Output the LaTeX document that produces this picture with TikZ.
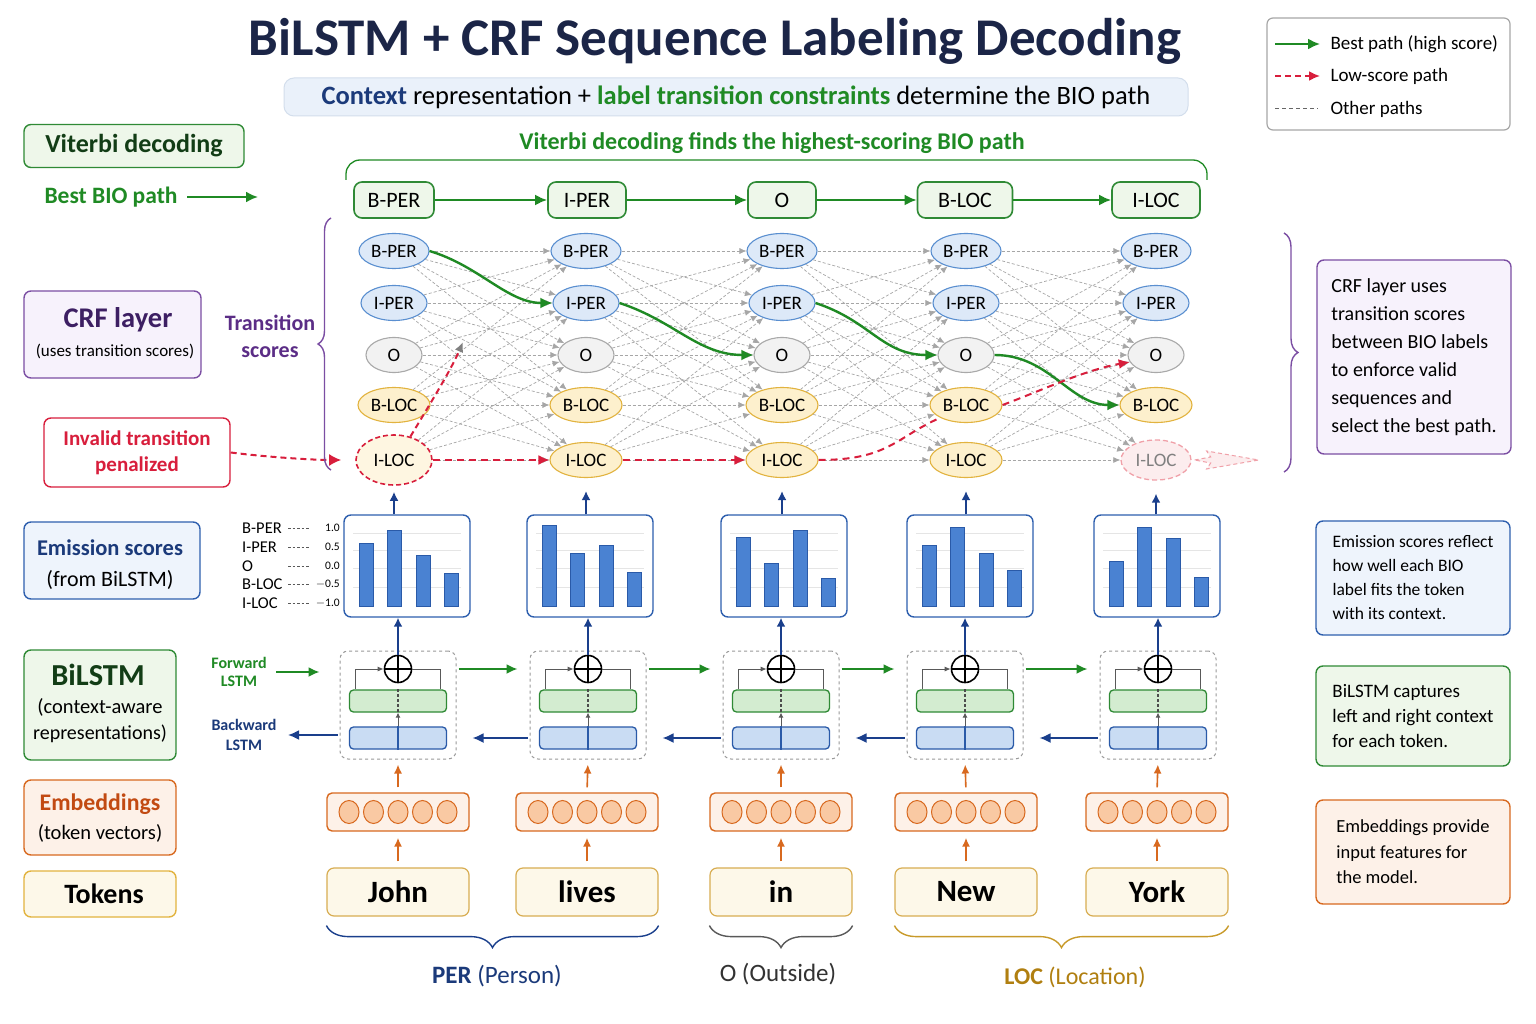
\documentclass[tikz,border=0pt]{standalone}
\usepackage{fontspec}
\setmainfont{Carlito}
\usetikzlibrary{shapes.geometric,arrows.meta,decorations.pathreplacing,calc}
\definecolor{navyT}{HTML}{1B2547}
\definecolor{bestG}{HTML}{1F8A24}
\definecolor{darkG}{HTML}{123D16}
\definecolor{bestFill}{HTML}{EEF7EA}
\definecolor{bestBord}{HTML}{2F8A35}
\definecolor{redC}{HTML}{D81E3C}
\definecolor{purpleC}{HTML}{7B4EA3}
\definecolor{purpleT}{HTML}{3D1F63}
\definecolor{purpleFill}{HTML}{F7F2FC}
\definecolor{transT}{HTML}{5B2D86}
\definecolor{blueC}{HTML}{2E5FAE}
\definecolor{blueFill}{HTML}{EEF4FC}
\definecolor{navyArr}{HTML}{1A3F8C}
\definecolor{blueT}{HTML}{1B3A7A}
\definecolor{bperFill}{HTML}{DDE9F8}
\definecolor{bperBord}{HTML}{5A8FD0}
\definecolor{oFill}{HTML}{F2F2F2}
\definecolor{oBord}{HTML}{A9A9A9}
\definecolor{locFill}{HTML}{FDF0CD}
\definecolor{locBord}{HTML}{E2B33F}
\definecolor{barFill}{HTML}{4A82D2}
\definecolor{barBord}{HTML}{2A5AA8}
\definecolor{fwFill}{HTML}{D3ECD0}
\definecolor{bwFill}{HTML}{C9DCF3}
\definecolor{orC}{HTML}{D8691F}
\definecolor{orT}{HTML}{C24A12}
\definecolor{orFill}{HTML}{FDF1E8}
\definecolor{dotFill}{HTML}{F9C9A3}
\definecolor{tokFill}{HTML}{FDF8E9}
\definecolor{tokBord}{HTML}{D8AD52}
\definecolor{goldT}{HTML}{B07F10}
\definecolor{goldB}{HTML}{C89A2A}
\definecolor{subFill}{HTML}{EAF1FA}
\definecolor{subBord}{HTML}{D3DEEC}
\definecolor{pinkD}{HTML}{F0A0A8}
\definecolor{pinkF}{HTML}{FCEDEE}
\newcommand\fz[2]{\fontsize{#1}{#2}\selectfont}
\begin{document}
\begin{tikzpicture}[x=1pt,y=-1pt,
  lbl/.style={draw=#1, rounded corners=7pt, line width=1.4pt},
  tnd/.style={ellipse, inner sep=0pt, minimum height=35pt, line width=1.1pt, font=\fz{19}{21}},
  pernd/.style={tnd, draw=bperBord, fill=bperFill, minimum width=70pt},
  ond/.style={tnd, draw=oBord, fill=oFill, minimum width=56pt},
  locnd/.style={tnd, draw=locBord, fill=locFill, minimum width=72pt},
  topnd/.style={draw=bestBord, fill=bestFill, rounded corners=8pt, line width=1.6pt, minimum height=36pt, inner sep=0pt, font=\fz{22}{24}},
  bestp/.style={draw=bestG, line width=2.4pt, -{Latex[length=12pt,width=11pt]}},
  lowp/.style={draw=redC, line width=2pt, dash pattern=on 7pt off 5pt, -{Latex[length=11pt,width=10pt]}},
  lowline/.style={draw=redC, line width=2pt, dash pattern=on 7pt off 5pt},
  othr/.style={draw=gray!70, line width=0.7pt, dash pattern=on 3pt off 2pt, -{Latex[length=7pt,width=6pt]}},
  navyarr/.style={draw=navyArr, line width=1.8pt, -{Latex[length=9pt,width=9pt]}},
  fwarr/.style={draw=bestG, line width=1.8pt, -{Latex[length=11pt,width=10pt]}},
  bwarr/.style={draw=navyArr, line width=1.8pt, -{Latex[length=11pt,width=10pt]}},
  orarr/.style={draw=orC, line width=1.6pt, -{Latex[length=9pt,width=8pt]}},
  embx/.style={draw=blueC, fill=white, rounded corners=7pt, line width=1.4pt, minimum width=126pt, minimum height=102pt},
  cellbox/.style={draw=gray!80, dashed, rounded corners=8pt, line width=1pt, minimum width=116pt, minimum height=108pt},
  fwbar/.style={draw=bestBord, fill=fwFill, rounded corners=4pt, line width=1.3pt, minimum width=97pt, minimum height=22pt},
  bwbar/.style={draw=barBord, fill=bwFill, rounded corners=4pt, line width=1.3pt, minimum width=97pt, minimum height=22pt},
  embnd/.style={draw=orC, fill=orFill, rounded corners=5pt, line width=1.4pt, minimum width=142pt, minimum height=38pt},
  toknd/.style={draw=tokBord, fill=tokFill, rounded corners=7pt, line width=1.2pt, minimum width=142pt, minimum height=48pt, font=\fz{31}{34}\bfseries},
  notebox/.style={lbl=#1, align=left, minimum width=194pt},
  brc/.style={decorate, line width=1.4pt},
]
\useasboundingbox (0,0) rectangle (1536,1024);
\fill[white] (0,0) rectangle (1536,1024);

% ---------- title ----------
\node[font=\fz{53}{58}\bfseries, text=navyT] (title) at (715,41) {BiLSTM + CRF Sequence Labeling Decoding};
\node[fill=subFill, draw=subBord, rounded corners=10pt, line width=1pt, minimum width=904pt, minimum height=38pt, font=\fz{26.5}{30}] (sub) at (736,97)
  {\textcolor{blueT}{\bfseries Context} representation + \textcolor{bestG}{\bfseries label transition constraints} determine the BIO path};

% ---------- legend ----------
\node[draw=gray!70, rounded corners=6pt, line width=1.2pt, minimum width=243pt, minimum height=112pt] (legend) at (1388.5,74) {};
\coordinate (lga) at (1275,44); \coordinate (lgb) at (1320,44);
\coordinate (lgc) at (1275,76); \coordinate (lgd) at (1320,76);
\coordinate (lge) at (1275,109); \coordinate (lgf) at (1318,109);
\draw[bestp, line width=2pt] (lga) -- (lgb);
\draw[lowp, dash pattern=on 6pt off 4pt] (lgc) -- (lgd);
\draw[draw=gray!80!black, line width=1pt, dash pattern=on 4pt off 3pt] (lge) -- (lgf);
\node[anchor=west, font=\fz{19}{22}] (lg1) at (1327,44) {Best path (high score)};
\node[anchor=west, font=\fz{19}{22}] (lg2) at (1327,76) {Low-score path};
\node[anchor=west, font=\fz{19}{22}] (lg3) at (1327,109) {Other paths};

% ---------- left labels ----------
\node[lbl=bestBord, fill=bestFill, minimum width=220pt, minimum height=43pt, font=\fz{26}{28}\bfseries, text=darkG] (vitbox) at (134,146) {Viterbi decoding};
\node[font=\fz{23.5}{26}\bfseries, text=bestG] (bbp) at (111,197) {Best BIO path};
\coordinate (bbpend) at (258,197);
\draw[bestp, line width=2.2pt, shorten <=6pt] (bbp.east) -- (bbpend);

\node[lbl=purpleC, fill=purpleFill, minimum width=177pt, minimum height=87pt] (crfbox) at (112.5,334.5) {};
\node[font=\fz{28.5}{30}\bfseries, text=purpleT] (crft) at (118,320) {CRF layer};
\node[font=\fz{17}{20}] (crfs) at (115,351) {(uses transition scores)};
\node[font=\fz{22}{27}\bfseries, text=transT, align=center] (trs) at (270,336) {Transition\\scores};

\node[lbl=redC, fill=white, minimum width=186pt, minimum height=69pt, font=\fz{21}{26}\bfseries, text=redC, align=center] (inv) at (137,452.5) {Invalid transition\\penalized};

\node[lbl=blueC, fill=blueFill, minimum width=176pt, minimum height=77pt] (embox) at (112,560.5) {};
\node[font=\fz{22.5}{26}\bfseries, text=blueT] (emt) at (110,548) {Emission scores};
\node[font=\fz{22}{24}] (ems) at (110,580) {(from BiLSTM)};

\node[lbl=bestBord, fill=bestFill, minimum width=152pt, minimum height=110pt] (lstmbox) at (100,705) {};
\node[font=\fz{30.5}{32}\bfseries, text=darkG] (lstmt) at (98,675) {BiLSTM};
\node[font=\fz{20.5}{22}] (lstms1) at (100,707) {(context-aware};
\node[font=\fz{20}{22}] (lstms2) at (100,734) {representations)};

\node[lbl=orC, fill=orFill, minimum width=152pt, minimum height=75pt] (embbox) at (100,817.5) {};
\node[font=\fz{23.8}{26}\bfseries, text=orT] (embt) at (100,804) {Embeddings};
\node[font=\fz{20.5}{22}] (embs) at (100,833) {(token vectors)};

\node[lbl=locBord, fill=tokFill, minimum width=152pt, minimum height=46pt, font=\fz{28}{30}\bfseries] (tokbox) at (100,894) {\hspace*{8pt}Tokens};

% ---------- top best path row ----------
\node[topnd, minimum width=80pt] (t1) at (394,200) {B-PER};
\node[topnd, minimum width=78pt] (t2) at (587,200) {I-PER};
\node[topnd, minimum width=68pt] (t3) at (782,200) {O};
\node[topnd, minimum width=95pt] (t4) at (965,200) {B-LOC};
\node[topnd, minimum width=88pt] (t5) at (1156,200) {I-LOC};
\draw[bestp] (t1) -- (t2);
\draw[bestp] (t2) -- (t3);
\draw[bestp] (t3) -- (t4);
\draw[bestp] (t4) -- (t5);
\node[font=\fz{24}{26}\bfseries, text=bestG] (vitfind) at (772,143) {Viterbi decoding finds the highest-scoring BIO path};
\draw[bestG, line width=1.3pt, rounded corners=14pt] (346,180) -- (346,160) -- (1207,160) -- (1207,180);

% ---------- trellis ----------
\foreach \k/\x in {1/394,2/586,3/782,4/966,5/1156}{
  \node[pernd] (bp\k) at (\x,251) {B-PER};
  \node[pernd, minimum width=66pt] (ip\k) at (\x,303) {I-PER};
  \node[ond] (o\k) at (\x,355) {O};
  \node[locnd] (bl\k) at (\x,405) {B-LOC};
}
\foreach \k/\x in {2/586,3/782,4/966}
  \node[locnd] (il\k) at (\x,460) {I-LOC};
\node[tnd, draw=redC, fill=locFill!60, line width=1.6pt, minimum width=76pt, minimum height=50pt, dash pattern=on 5pt off 3pt] (il1) at (394,460) {I-LOC};
\node[tnd, draw=pinkD, fill=pinkF, dash pattern=on 5pt off 3pt, line width=1.3pt, minimum width=70pt, minimum height=40pt, text=gray] (il5) at (1156,460) {I-LOC};

\foreach \k [evaluate=\k as \n using int(\k+1)] in {1,...,4}{
  \foreach \a/\ra in {bp/1,ip/2,o/3,bl/4,il/5}{
    \foreach \b/\rb in {bp/1,ip/2,o/3,bl/4,il/5}{
      \pgfmathtruncatemacro\dd{abs(\ra-\rb)}
      \ifnum\dd<4
        \draw[othr] (\a\k) -- (\b\n);
      \fi
    }
  }
}

% best path
\draw[bestp] (bp1.east) .. controls +(50,15) and +(-45,0) .. (ip2.west);
\draw[bestp] (ip2.east) .. controls +(55,18) and +(-55,0) .. (o3.west);
\draw[bestp] (ip3.east) .. controls +(55,18) and +(-55,0) .. (o4.west);
\draw[bestp] (o4.east) .. controls +(55,0) and +(-50,0) .. (bl5.west);

% low-score path
\draw[lowp] (il1) -- (il2);
\draw[lowp] (il2) -- (il3);
\draw[lowline] (il3.east) .. controls +(70,0) and +(-45,20) .. (bl4.south west);
\draw[lowp] (bl4.east) .. controls +(40,-15) and +(-45,8) .. (o5.195);
\coordinate (invtip) at (463,342);
\draw[lowline, dash pattern=on 6pt off 4pt, -{Latex[length=10pt,width=9pt,color=gray]}] (il1.55) .. controls +(18,-30) and +(-12,28) .. (invtip);
\draw[draw=redC, line width=2pt, dash pattern=on 6pt off 4pt, -{Latex[length=12pt,width=12pt]}, shorten >=14pt] (inv.east) .. controls +(40,5) and +(-40,0) .. (il1.west);
% faded arrow after last I-LOC
\draw[draw=pinkD, fill=pinkF, line width=1pt, dash pattern=on 4pt off 3pt] ([xshift=3pt]il5.east) -- ++(16,-3) -- ++(-4,-6) -- ++(52,9) -- ++(-52,9) -- ++(4,-6) -- cycle;

% braces around trellis
\draw[brc, purpleC, decoration={brace, amplitude=13pt}] (331,470) -- (331,218);
\draw[brc, purpleC, decoration={brace, amplitude=14pt}] (1284,233) -- (1284,472);

% ---------- emission charts ----------
\foreach \k/\ex/\ha/\hb/\hc/\hd in {1/407/63/76/51/33,2/590/81/53/61/34,3/784/69/43/76/28,4/970/61/79/53/36,5/1157/45/79/68/29}{
  \node[embx] (em\k) at (\ex,566) {};
  \foreach \yy in {533,550,568,587}
    \draw[gray!20, line width=0.6pt] (\ex-54,\yy) -- (\ex+54,\yy);
  \foreach \i/\h in {0/\ha,1/\hb,2/\hc,3/\hd}
    \filldraw[fill=barFill, draw=barBord, line width=1pt] (\ex-48+28.5*\i,606) rectangle ++(14,-\h);
}
\foreach \k in {2,...,5}
  \draw[navyarr, shorten >=13pt] (il\k.south |- em\k.north) -- (il\k.south);
\draw[navyarr, shorten >=6pt] (il1.south |- em1.north) -- (il1.south);

% axis labels
\foreach \lab/\num/\yy in {B-PER/1.0/528,I-PER/0.5/547,O/0.0/566,B-LOC/$-$0.5/584,I-LOC/$-$1.0/603}{
  \node[anchor=west, font=\fz{16.5}{18}, inner sep=0pt] (ax\lab) at (242,\yy) {\lab};
  \node[anchor=east, font=\fz{11.5}{13}, inner sep=0pt] (nm\lab) at (340,\yy) {\num};
  \draw[gray!70!black, line width=0.7pt, dash pattern=on 2.5pt off 2pt] (288,\yy) -- (309,\yy);
}

% ---------- BiLSTM cells ----------
\foreach \k/\x in {1/398,2/588,3/781,4/965,5/1158}{
  \node[cellbox] (cell\k) at (\x,705) {};
  \node[fwbar] (fw\k) at (\x,701) {};
  \node[bwbar] (bw\k) at (\x,738) {};
  \draw[gray!60!black, line width=1.1pt, dash pattern=on 3pt off 2pt] (fw\k.north) -- (fw\k.south);
  \draw[barBord, line width=1.3pt] (bw\k.north) -- (bw\k.south);
  \draw[gray!70!black, line width=0.9pt, -{Latex[length=5pt,width=5pt]}] (bw\k.north) -- (fw\k.south);
  \node[circle, draw=black, fill=white, line width=1.6pt, minimum size=27pt, inner sep=0pt] (pl\k) at (\x,669) {};
  \draw[line width=1.6pt] (pl\k.north) -- (pl\k.south) (pl\k.west) -- (pl\k.east);
  \draw[gray!70!black, line width=1pt, -{Latex[length=6pt,width=5pt]}] ([xshift=7pt]fw\k.north west) |- (pl\k.west);
  \draw[gray!70!black, line width=1pt] ([xshift=-7pt]fw\k.north east) |- (pl\k.east);
  \draw[navyarr] (pl\k.north) -- (pl\k.north |- em\k.south);
}
\foreach \k [evaluate=\k as \n using int(\k+1)] in {1,...,4}{
  \draw[fwarr, shorten <=2pt, shorten >=12pt] (cell\k.east |- pl\k) -- (cell\n.west |- pl\n);
  \draw[bwarr, shorten <=2pt, shorten >=16pt] (cell\n.west |- bw\n) -- (cell\k.east |- bw\k);
}
\node[font=\fz{16}{18}\bfseries, text=bestG, align=center] (fwl) at (239,672) {Forward\\LSTM};
\node[font=\fz{16}{20}\bfseries, text=blueT, align=center] (bwl) at (244,735) {Backward\\LSTM};
\draw[fwarr, shorten <=6pt, shorten >=20pt] (fwl.east) -- (fwl.east -| cell1.west);
\draw[bwarr, shorten <=2pt, shorten >=8pt] (bwl.east -| cell1.west) -- (bwl.east);

% ---------- embeddings & tokens ----------
\foreach \k/\x/\w in {1/398/John,2/587/lives,3/781/in,4/966/New,5/1157/York}{
  \node[embnd] (emb\k) at (\x,812) {};
  \foreach \i in {-2,...,2}
    \filldraw[fill=dotFill, draw=orC, line width=1pt] (\x+24.5*\i,812) ellipse (10 and 11.5);
  \node[toknd] (tok\k) at (\x,892) {\w};
  \draw[orarr, shorten <=5pt, shorten >=5pt] (emb\k.north) -- (cell\k.south);
  \draw[orarr, shorten <=6pt, shorten >=6pt] (tok\k.north) -- (emb\k.south);
}

% bottom braces
\draw[brc, navyArr, decoration={brace, mirror, amplitude=22pt}] ([yshift=-9pt]tok1.south west) -- ([yshift=-9pt]tok2.south east);
\draw[brc, gray!70!black, decoration={brace, mirror, amplitude=22pt}] ([yshift=-9pt]tok3.south west) -- ([yshift=-9pt]tok3.south east);
\draw[brc, goldB, decoration={brace, mirror, amplitude=22pt}] ([yshift=-9pt]tok4.south west) -- ([yshift=-9pt]tok5.south east);
\node[font=\fz{25}{28}, text=blueT] (perl) at (497,976) {\textbf{PER} (Person)};
\node[font=\fz{25}{28}, text=gray!40!black] (outl) at (778,974) {O (Outside)};
\node[font=\fz{24}{28}, text=goldT] (locl) at (1075,977) {\textbf{LOC} (Location)};

% ---------- right notes ----------
\node[notebox=purpleC, fill=purpleFill, minimum height=194pt, font=\fz{20}{28}] (crfnote) at (1414,357)
  {CRF layer uses\\transition scores\\between BIO labels\\to enforce valid\\sequences and\\select the best path.};
\node[notebox=blueC, fill=blueFill, minimum height=114pt, font=\fz{17.5}{24}] (emnote) at (1413,578)
  {Emission scores reflect\\how well each BIO\\label fits the token\\with its context.};
\node[notebox=bestBord, fill=bestFill, minimum height=100pt, font=\fz{19}{25}] (lstmnote) at (1413,716)
  {BiLSTM captures\\left and right context\\for each token.};
\node[notebox=orC, fill=orFill, minimum height=104pt, font=\fz{18.5}{25.5}] (embnote) at (1413,852)
  {Embeddings provide\\input features for\\the model.};
\end{tikzpicture}
\end{document}
